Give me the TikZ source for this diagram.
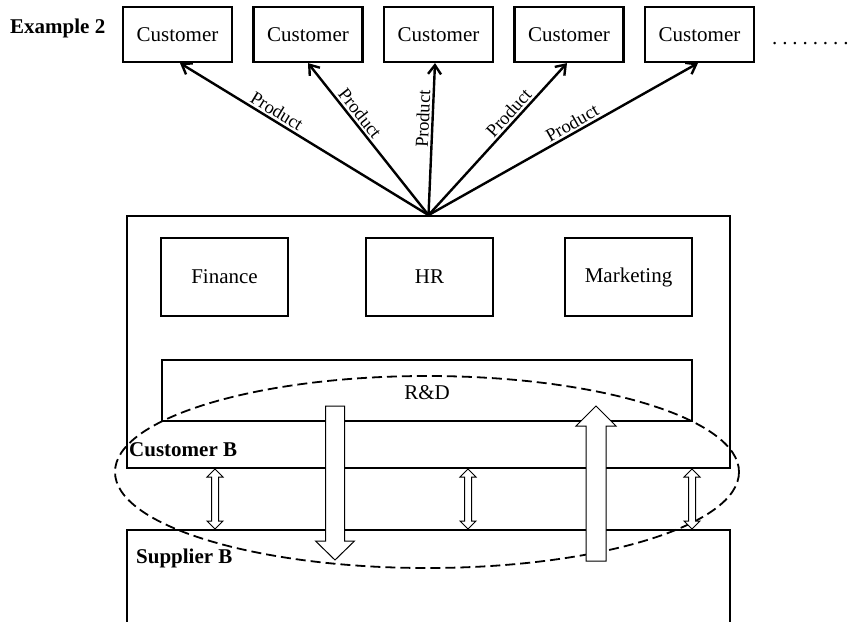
\documentclass[tikz,border=0pt]{standalone}
\usepackage{fontspec}
\setmainfont{Liberation Serif}
\usetikzlibrary{arrows.meta}

\tikzset{
  box/.style={draw, line width=2.2pt, rectangle, minimum width=#1, inner sep=0pt},
  boxtext/.style={font=\fontsize{21}{25}\selectfont},
  headline/.style={font=\fontsize{21}{25}\selectfont\bfseries},
  prod/.style={-{Straight Barb[length=9pt,width=13pt,line width=2.4pt]}, line width=2.4pt},
  prodlabel/.style={font=\fontsize{18.5}{21}\selectfont, sloped, above, inner sep=2pt, pos=0.63},
  blk/.style={draw, line width=1pt, fill=white, line join=miter},
  outer/.style={line width=1.8pt},
  dashring/.style={dashed, dash pattern=on 10pt off 5pt, line width=1.8pt}
}

\begin{document}
\begin{tikzpicture}[x=1pt, y=-1pt]
\useasboundingbox (0,0) rectangle (851,621);
\clip (0,0) rectangle (851,621);

% heading
\node[headline, anchor=base west, inner sep=0pt] (ex) at (10,33) {Example 2};

% customers along the top
\foreach \i/\cx in {1/177.5, 2/308, 3/438.5, 4/569, 5/699.5} {
  \node[box=109pt, minimum height=55pt, boxtext] (c\i) at (\cx,34.5) {Customer};
}
\node[boxtext, anchor=base west, inner sep=0pt] (more) at (772,44)
  {.\kern4.9pt.\kern4.9pt.\kern4.9pt.\kern4.9pt.\kern4.9pt.\kern4.9pt.\kern4.9pt.};

% the firm (Customer B)
\node[draw, outer, rectangle, minimum width=603pt, minimum height=252pt, inner sep=0pt] (org) at (428.5,342) {};

% internal departments
\node[box=127pt, minimum height=78pt, boxtext] (fin) at (224.5,277) {Finance};
\node[box=127pt, minimum height=78pt, boxtext] (hr)  at (429.5,277) {HR};
\node[box=127pt, minimum height=78pt, boxtext] (mkt) at (628.5,277) {Marketing};
\node[box=530pt, minimum height=61pt, boxtext] (rd) at (427,390.5) {};
\node[boxtext, inner sep=0pt] (rdl) at (427,393) {R\&D};

% product flows to customers
\draw[prod] (org.north) -- (c1.south -| 180,0) node[prodlabel] {Product};
\draw[prod] (org.north) -- (c2.south) node[prodlabel] {Product};
\draw[prod] (org.north) -- (c3.south -| 435,0) node[prodlabel] {Product};
\draw[prod] (org.north) -- (c4.south -| 567,0) node[prodlabel] {Product};
\draw[prod] (org.north) -- (c5.south -| 698,0) node[prodlabel, pos=0.55] {Product};

% supplier (open at the bottom)
\coordinate (supl) at (127,530);
\coordinate (supr) at (730,530);
\draw[outer] (supl |- 0,625) -- (supl) -- (supr) -- (supr |- 0,625);

\node[headline, anchor=west, inner sep=0pt] (cb) at (129,450) {Customer B};
\node[headline, anchor=west, inner sep=0pt] (sb) at (136,558) {Supplier B};

% boundary ring
\draw[dashring] (427,472) ellipse [x radius=312, y radius=96];

% knowledge transfer block arrows
\draw[blk] (325.5,406) -- (344.5,406) -- (344.5,541) -- (354.5,541) -- (335,560)
  -- (315.5,541) -- (325.5,541) -- cycle;
\draw[blk] (586,561) -- (606,561) -- (606,426) -- (616,426) -- (596,406)
  -- (576,426) -- (586,426) -- cycle;

% two-way links between the firm and its supplier
\foreach \x in {215, 468, 692} {
  \draw[blk] (\x,469) -- (\x+8,477) -- (\x+3.5,477) -- (\x+3.5,521) -- (\x+8,521)
    -- (\x,529) -- (\x-8,521) -- (\x-3.5,521) -- (\x-3.5,477) -- (\x-8,477) -- cycle;
}
\end{tikzpicture}
\end{document}
